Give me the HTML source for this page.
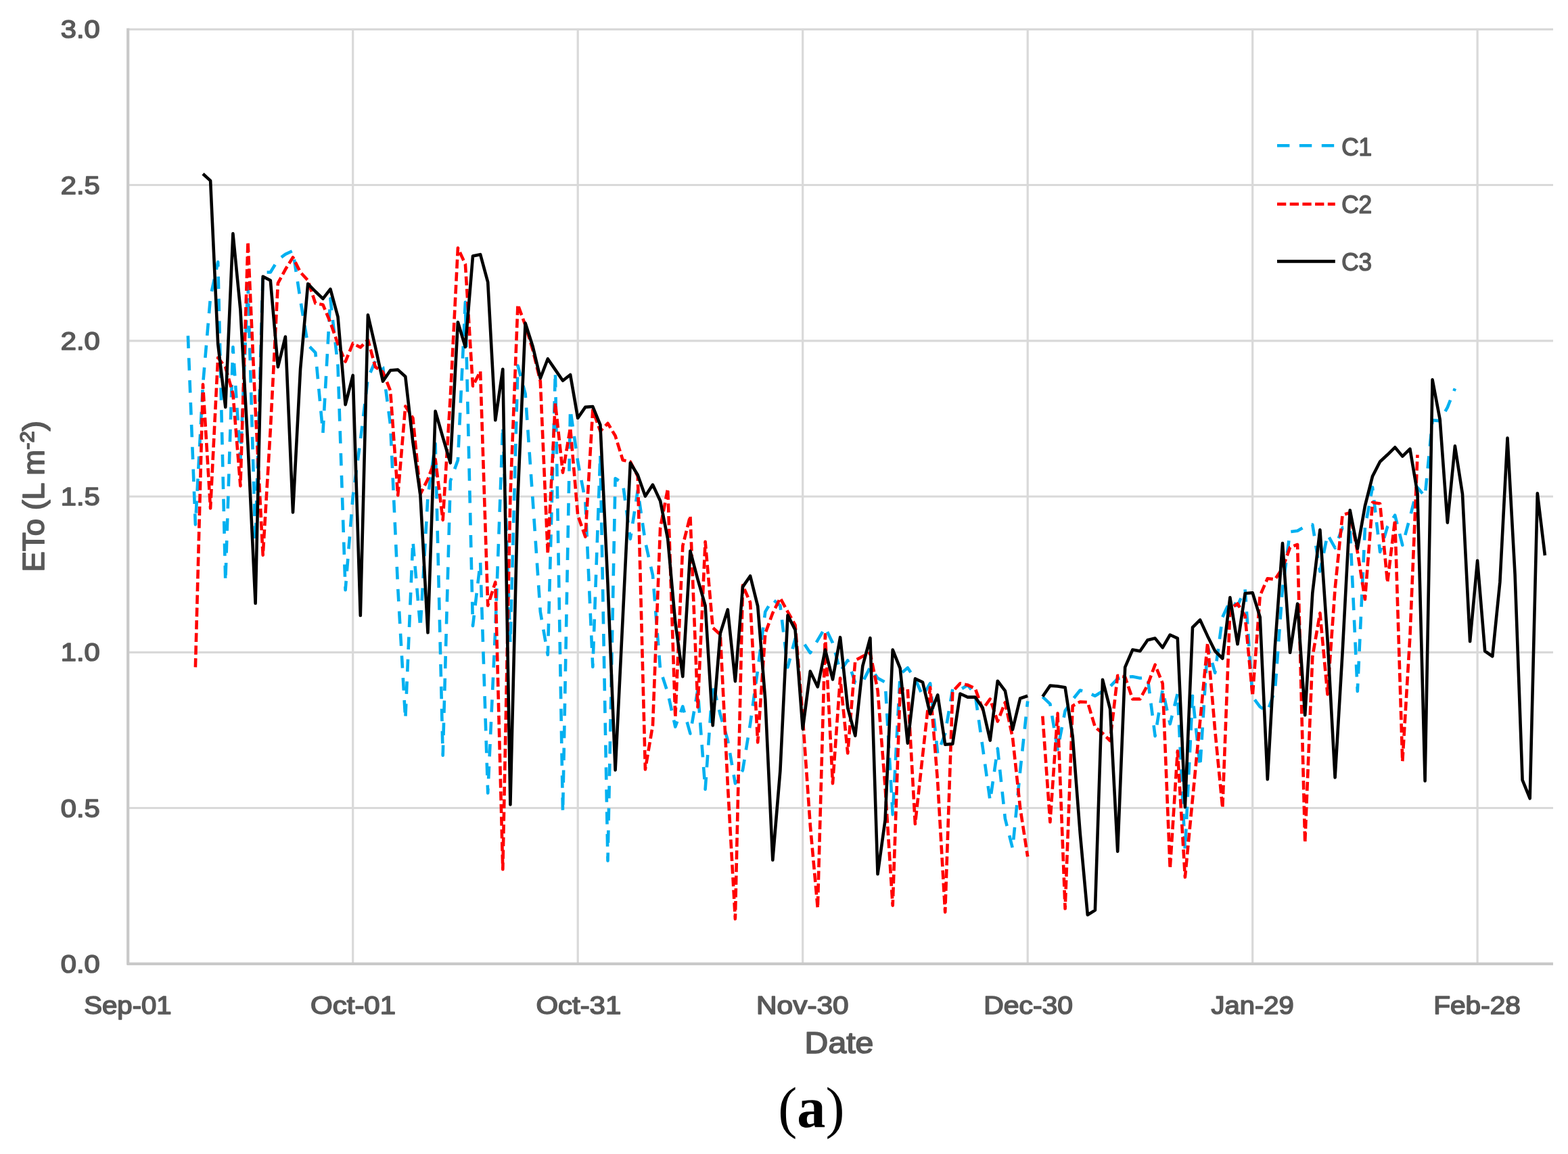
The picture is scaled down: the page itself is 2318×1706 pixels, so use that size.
<!DOCTYPE html>
<html lang="en"><head><meta charset="utf-8"><title>ETo chart (a)</title>
<style>html,body{margin:0;padding:0;background:#fff}body{width:2318px;height:1706px;overflow:hidden}svg{display:block;filter:blur(0.6px)}</style></head><body>
<svg xmlns="http://www.w3.org/2000/svg" width="2318" height="1706" viewBox="0 0 2318 1706">
<rect width="2318" height="1706" fill="#fff"/>
<g stroke="#d9d9d9" stroke-width="3.2" fill="none">
<line x1="189.2" y1="1194.5" x2="2296.0" y2="1194.5"/>
<line x1="189.2" y1="964.3" x2="2296.0" y2="964.3"/>
<line x1="189.2" y1="734.0" x2="2296.0" y2="734.0"/>
<line x1="189.2" y1="503.8" x2="2296.0" y2="503.8"/>
<line x1="189.2" y1="273.5" x2="2296.0" y2="273.5"/>
<line x1="189.2" y1="43.3" x2="2296.0" y2="43.3"/>
<line x1="521.7" y1="43.3" x2="521.7" y2="1424.8"/>
<line x1="854.2" y1="43.3" x2="854.2" y2="1424.8"/>
<line x1="1186.7" y1="43.3" x2="1186.7" y2="1424.8"/>
<line x1="1519.2" y1="43.3" x2="1519.2" y2="1424.8"/>
<line x1="1851.7" y1="43.3" x2="1851.7" y2="1424.8"/>
<line x1="2184.1" y1="43.3" x2="2184.1" y2="1424.8"/>
</g>
<g stroke="#c9c9c9" stroke-width="4.2" fill="none">
<line x1="189.2" y1="41.8" x2="189.2" y2="1426.3"/>
<line x1="187.7" y1="1424.8" x2="2296.0" y2="1424.8"/>
</g>
<g fill="none" stroke-linejoin="round" stroke-linecap="butt" stroke-width="4.6">
<path stroke="#00b0f0" stroke-dasharray="18.4 14.5" d="M277.9 496.4 L288.9 775.5 L300.0 568.3 L311.1 439.3 L322.2 387.3 L333.3 859.8 L344.4 513.0 L355.4 678.8 L366.5 420.9 L377.6 800.8 L388.7 402.5 L399.8 402.5 L410.9 384.1 L421.9 375.8 L433.0 370.7 L444.1 443.9 L455.2 509.8 L466.3 521.3 L477.4 640.1 L488.4 441.6 L499.5 540.6 L510.6 872.2 L521.7 734.0 L532.8 651.2 L543.9 559.1 L554.9 533.7 L566.0 542.9 L577.1 628.1 L588.2 869.0 L599.3 1063.3 L610.4 799.9 L621.4 927.9 L632.5 734.0 L643.6 655.8 L654.7 1116.7 L665.8 711.0 L676.9 680.2 L687.9 446.7 L699.0 925.2 L710.1 830.8 L721.2 1172.4 L732.3 930.2 L743.3 630.0 L754.4 950.5 L765.5 540.6 L776.6 582.1 L787.7 740.5 L798.8 904.4 L809.8 968.0 L820.9 549.9 L832.0 1201.0 L843.1 605.1 L854.2 682.5 L865.3 740.5 L876.3 985.9 L887.4 672.3 L898.5 1272.4 L909.6 707.3 L920.7 714.2 L931.8 796.7 L942.8 724.8 L953.9 800.8 L965.0 850.6 L976.1 990.1 L987.2 1024.2 L998.3 1074.4 L1009.3 1044.4 L1020.4 1084.5 L1031.5 1020.0 L1042.6 1166.9 L1053.7 1010.3 L1064.8 1056.4 L1075.8 1094.2 L1086.9 1158.2 L1098.0 1138.4 L1109.1 1070.2 L1120.2 990.1 L1131.3 904.4 L1142.3 886.0 L1153.4 895.2 L1164.5 986.4 L1175.6 944.0 L1186.7 948.6 L1197.8 965.2 L1208.8 946.3 L1219.9 927.5 L1231.0 950.5 L1242.1 992.4 L1253.2 976.3 L1264.3 1009.4 L1275.3 1008.5 L1286.4 986.4 L1297.5 1002.5 L1308.6 1008.5 L1319.7 1204.2 L1330.7 996.5 L1341.8 987.3 L1352.9 1003.4 L1364.0 1028.8 L1375.1 1010.3 L1386.2 1114.0 L1397.2 1084.5 L1408.3 1018.6 L1419.4 1019.6 L1430.5 1012.7 L1441.6 1026.5 L1452.7 1104.8 L1463.7 1184.0 L1474.8 1106.6 L1485.9 1210.2 L1497.0 1254.4 L1508.1 1140.2 L1519.2 1036.6 M1541.3 1030.2 L1552.4 1040.7 L1563.5 1108.0 L1574.6 1050.9 L1585.7 1034.3 L1596.7 1020.5 L1607.8 1023.7 L1618.9 1028.8 L1630.0 1021.9 L1641.1 1015.0 L1652.2 1003.4 L1663.2 1001.1 L1674.3 1000.2 L1685.4 1002.5 L1696.5 1001.1 L1707.6 1088.2 L1718.7 1019.6 L1729.7 1070.2 L1740.8 1025.1 L1751.9 1256.3 L1763.0 1028.8 L1774.1 1134.2 L1785.2 955.1 L1796.2 994.7 L1807.3 912.3 L1818.4 888.3 L1829.5 895.2 L1840.6 871.3 L1851.7 1030.2 L1862.7 1044.9 L1873.8 1051.8 L1884.9 1020.5 L1896.0 870.4 L1907.1 786.1 L1918.1 784.7 L1929.2 778.3 L1940.3 775.5 L1951.4 844.6 L1962.5 790.2 L1973.6 810.0 L1984.6 780.1 L1995.7 780.1 L2006.8 1021.9 L2017.9 780.1 L2029.0 720.2 L2040.1 816.0 L2051.1 778.7 L2062.2 761.7 L2073.3 805.9 L2084.4 764.9 L2095.5 720.7 L2106.6 734.0 L2117.6 621.2 L2128.7 622.1 L2139.8 602.3 L2150.9 574.3"/>
<path stroke="#ff0000" stroke-dasharray="13.3 5.4" d="M288.9 986.4 L300.0 568.3 L311.1 751.5 L322.2 528.7 L333.3 542.9 L344.4 582.1 L355.4 718.4 L366.5 357.4 L377.6 605.1 L388.7 820.6 L399.8 635.0 L410.9 418.6 L421.9 398.3 L433.0 380.4 L444.1 402.5 L455.2 414.5 L466.3 448.5 L477.4 450.4 L488.4 476.6 L499.5 508.4 L510.6 534.7 L521.7 507.5 L532.8 513.5 L543.9 502.4 L554.9 542.5 L566.0 549.9 L577.1 577.5 L588.2 732.2 L599.3 600.5 L610.4 618.0 L621.4 730.4 L632.5 708.3 L643.6 678.8 L654.7 768.6 L665.8 586.7 L676.9 366.6 L687.9 390.5 L699.0 570.6 L710.1 548.9 L721.2 895.2 L732.3 860.7 L743.3 1285.3 L754.4 734.0 L765.5 450.4 L776.6 480.8 L787.7 517.6 L798.8 563.7 L809.8 818.8 L820.9 595.9 L832.0 698.6 L843.1 632.3 L854.2 761.7 L865.3 793.5 L876.3 606.0 L887.4 637.3 L898.5 625.8 L909.6 644.3 L920.7 680.2 L931.8 682.5 L942.8 704.1 L953.9 1137.4 L965.0 1072.1 L976.1 780.1 L987.2 722.5 L998.3 1060.5 L1009.3 806.8 L1020.4 762.6 L1031.5 1045.3 L1042.6 800.8 L1053.7 927.9 L1064.8 938.1 L1075.8 1160.0 L1086.9 1358.5 L1098.0 865.3 L1109.1 890.6 L1120.2 1097.4 L1131.3 936.2 L1142.3 906.3 L1153.4 884.2 L1164.5 904.4 L1175.6 924.2 L1186.7 1061.0 L1197.8 1220.3 L1208.8 1342.4 L1219.9 938.1 L1231.0 1158.2 L1242.1 1002.5 L1253.2 1113.5 L1264.3 976.3 L1275.3 970.3 L1286.4 965.2 L1297.5 1020.5 L1308.6 1164.2 L1319.7 1338.7 L1330.7 1018.6 L1341.8 1018.6 L1352.9 1218.0 L1364.0 1116.7 L1375.1 1016.3 L1386.2 1156.3 L1397.2 1348.4 L1408.3 1022.3 L1419.4 1010.3 L1430.5 1012.7 L1441.6 1017.7 L1452.7 1048.6 L1463.7 1033.4 L1474.8 1066.5 L1485.9 1038.4 L1497.0 1090.5 L1508.1 1194.1 L1519.2 1266.4 M1541.3 1058.7 L1552.4 1215.3 L1563.5 1054.6 L1574.6 1343.3 L1585.7 1043.5 L1596.7 1037.5 L1607.8 1038.0 L1618.9 1074.8 L1630.0 1084.0 L1641.1 1095.1 L1652.2 998.8 L1663.2 1000.7 L1674.3 1033.4 L1685.4 1033.4 L1696.5 1012.7 L1707.6 982.7 L1718.7 1010.3 L1729.7 1284.3 L1740.8 1110.3 L1751.9 1296.8 L1763.0 1181.2 L1774.1 1066.1 L1785.2 950.5 L1796.2 1079.9 L1807.3 1194.5 L1818.4 900.3 L1829.5 892.5 L1840.6 910.4 L1851.7 1028.8 L1862.7 880.5 L1873.8 855.2 L1884.9 856.5 L1896.0 840.0 L1907.1 809.1 L1918.1 805.0 L1929.2 1245.7 L1940.3 970.7 L1951.4 906.3 L1962.5 1026.5 L1973.6 870.4 L1984.6 761.2 L1995.7 758.0 L2006.8 816.0 L2017.9 886.0 L2029.0 742.8 L2040.1 744.6 L2051.1 861.1 L2062.2 768.6 L2073.3 1125.5 L2084.4 941.3 L2095.5 672.3"/>
<path stroke="#000" d="M300.0 257.0 L311.1 267.1 L322.2 508.4 L333.3 601.9 L344.4 345.4 L355.4 457.7 L366.5 658.1 L377.6 892.0 L388.7 408.9 L399.8 414.5 L410.9 542.5 L421.9 497.8 L433.0 757.5 L444.1 545.2 L455.2 419.5 L466.3 431.0 L477.4 441.6 L488.4 427.4 L499.5 468.3 L510.6 598.2 L521.7 554.9 L532.8 910.0 L543.9 465.6 L554.9 513.0 L566.0 563.7 L577.1 547.5 L588.2 546.6 L599.3 556.8 L610.4 653.9 L621.4 732.2 L632.5 935.3 L643.6 607.9 L654.7 646.6 L665.8 684.3 L676.9 476.2 L687.9 513.0 L699.0 378.5 L710.1 376.2 L721.2 417.2 L732.3 621.2 L743.3 545.7 L754.4 1189.5 L765.5 734.0 L776.6 477.6 L787.7 512.5 L798.8 559.1 L809.8 530.5 L820.9 546.6 L832.0 562.7 L843.1 554.0 L854.2 618.0 L865.3 601.9 L876.3 601.0 L887.4 628.1 L898.5 863.0 L909.6 1138.4 L920.7 913.2 L931.8 684.3 L942.8 702.3 L953.9 733.6 L965.0 716.6 L976.1 740.5 L987.2 796.7 L998.3 920.1 L1009.3 1000.2 L1020.4 814.6 L1031.5 856.5 L1042.6 895.2 L1053.7 1072.5 L1064.8 936.2 L1075.8 901.2 L1086.9 1007.1 L1098.0 867.6 L1109.1 851.5 L1120.2 896.1 L1131.3 1034.3 L1142.3 1271.5 L1153.4 1139.3 L1164.5 909.5 L1175.6 931.1 L1186.7 1077.6 L1197.8 992.4 L1208.8 1015.4 L1219.9 960.6 L1231.0 1004.4 L1242.1 942.2 L1253.2 1046.3 L1264.3 1087.7 L1275.3 984.6 L1286.4 943.1 L1297.5 1292.2 L1308.6 1212.0 L1319.7 960.6 L1330.7 988.2 L1341.8 1098.8 L1352.9 1003.4 L1364.0 1008.5 L1375.1 1055.5 L1386.2 1027.4 L1397.2 1100.6 L1408.3 1099.7 L1419.4 1025.5 L1430.5 1030.6 L1441.6 1030.6 L1452.7 1046.3 L1463.7 1094.6 L1474.8 1006.7 L1485.9 1021.4 L1497.0 1078.5 L1508.1 1032.5 L1519.2 1028.8 M1541.3 1029.7 L1552.4 1013.6 L1563.5 1014.5 L1574.6 1016.3 L1585.7 1088.6 L1596.7 1231.4 L1607.8 1352.5 L1618.9 1345.6 L1630.0 1004.8 L1641.1 1048.1 L1652.2 1258.6 L1663.2 986.4 L1674.3 960.6 L1685.4 962.5 L1696.5 946.3 L1707.6 943.6 L1718.7 957.4 L1729.7 938.5 L1740.8 943.6 L1751.9 1193.2 L1763.0 927.5 L1774.1 916.4 L1785.2 940.4 L1796.2 962.5 L1807.3 973.5 L1818.4 883.3 L1829.5 952.3 L1840.6 877.3 L1851.7 876.3 L1862.7 912.3 L1873.8 1152.2 L1884.9 955.1 L1896.0 803.1 L1907.1 964.8 L1918.1 892.5 L1929.2 1057.3 L1940.3 876.8 L1951.4 783.3 L1962.5 945.9 L1973.6 1149.4 L1984.6 964.3 L1995.7 754.3 L2006.8 811.0 L2017.9 747.9 L2029.0 704.1 L2040.1 682.5 L2051.1 672.3 L2062.2 661.3 L2073.3 674.6 L2084.4 663.6 L2095.5 729.4 L2106.6 1154.5 L2117.6 561.4 L2128.7 620.3 L2139.8 772.7 L2150.9 659.4 L2162.0 730.4 L2173.1 948.2 L2184.1 828.9 L2195.2 962.5 L2206.3 970.3 L2217.4 860.2 L2228.5 647.5 L2239.6 849.2 L2250.6 1153.1 L2261.7 1180.3 L2272.8 729.4 L2283.9 821.1"/>
<line stroke="#00b0f0" stroke-dasharray="18.4 14.5" x1="1888" y1="215.2" x2="1973.8" y2="215.2"/>
<line stroke="#ff0000" stroke-dasharray="13.3 5.4" x1="1888" y1="301.7" x2="1973.8" y2="301.7"/>
<line stroke="#000" x1="1888" y1="386.4" x2="1973.8" y2="386.4"/>
</g>
<text transform="translate(124.19,1498.60) scale(1.0745,1)" style="font-family:Liberation Sans;font-weight:normal;font-size:37.4px;fill:#595959;stroke:#595959;stroke-width:1.6px;stroke-linejoin:round">Sep-01</text>
<text transform="translate(459.08,1498.60) scale(1.1229,1)" style="font-family:Liberation Sans;font-weight:normal;font-size:37.4px;fill:#595959;stroke:#595959;stroke-width:1.6px;stroke-linejoin:round">Oct-01</text>
<text transform="translate(792.38,1498.60) scale(1.1220,1)" style="font-family:Liberation Sans;font-weight:normal;font-size:37.4px;fill:#595959;stroke:#595959;stroke-width:1.6px;stroke-linejoin:round">Oct-31</text>
<text transform="translate(1117.95,1498.60) scale(1.1346,1)" style="font-family:Liberation Sans;font-weight:normal;font-size:37.4px;fill:#595959;stroke:#595959;stroke-width:1.6px;stroke-linejoin:round">Nov-30</text>
<text transform="translate(1454.14,1498.60) scale(1.0938,1)" style="font-family:Liberation Sans;font-weight:normal;font-size:37.4px;fill:#595959;stroke:#595959;stroke-width:1.6px;stroke-linejoin:round">Dec-30</text>
<text transform="translate(1790.47,1498.60) scale(1.0690,1)" style="font-family:Liberation Sans;font-weight:normal;font-size:37.4px;fill:#595959;stroke:#595959;stroke-width:1.6px;stroke-linejoin:round">Jan-29</text>
<text transform="translate(2119.15,1498.60) scale(1.0874,1)" style="font-family:Liberation Sans;font-weight:normal;font-size:37.4px;fill:#595959;stroke:#595959;stroke-width:1.6px;stroke-linejoin:round">Feb-28</text>
<text transform="translate(89.84,1437.90) scale(1.1153,1)" style="font-family:Liberation Sans;font-weight:normal;font-size:37.4px;fill:#595959;stroke:#595959;stroke-width:1.6px;stroke-linejoin:round">0.0</text>
<text transform="translate(89.84,1207.65) scale(1.1153,1)" style="font-family:Liberation Sans;font-weight:normal;font-size:37.4px;fill:#595959;stroke:#595959;stroke-width:1.6px;stroke-linejoin:round">0.5</text>
<text transform="translate(89.84,977.40) scale(1.1153,1)" style="font-family:Liberation Sans;font-weight:normal;font-size:37.4px;fill:#595959;stroke:#595959;stroke-width:1.6px;stroke-linejoin:round">1.0</text>
<text transform="translate(89.84,747.15) scale(1.1153,1)" style="font-family:Liberation Sans;font-weight:normal;font-size:37.4px;fill:#595959;stroke:#595959;stroke-width:1.6px;stroke-linejoin:round">1.5</text>
<text transform="translate(89.84,516.90) scale(1.1153,1)" style="font-family:Liberation Sans;font-weight:normal;font-size:37.4px;fill:#595959;stroke:#595959;stroke-width:1.6px;stroke-linejoin:round">2.0</text>
<text transform="translate(89.84,286.65) scale(1.1153,1)" style="font-family:Liberation Sans;font-weight:normal;font-size:37.4px;fill:#595959;stroke:#595959;stroke-width:1.6px;stroke-linejoin:round">2.5</text>
<text transform="translate(89.84,56.40) scale(1.1153,1)" style="font-family:Liberation Sans;font-weight:normal;font-size:37.4px;fill:#595959;stroke:#595959;stroke-width:1.6px;stroke-linejoin:round">3.0</text>
<text transform="translate(1983.16,230.30) scale(0.9421,1)" style="font-family:Liberation Sans;font-weight:normal;font-size:37.4px;fill:#595959;stroke:#595959;stroke-width:1.6px;stroke-linejoin:round">C1</text>
<text transform="translate(1983.16,314.80) scale(0.9421,1)" style="font-family:Liberation Sans;font-weight:normal;font-size:37.4px;fill:#595959;stroke:#595959;stroke-width:1.6px;stroke-linejoin:round">C2</text>
<text transform="translate(1983.16,399.80) scale(0.9370,1)" style="font-family:Liberation Sans;font-weight:normal;font-size:37.4px;fill:#595959;stroke:#595959;stroke-width:1.6px;stroke-linejoin:round">C3</text>
<text transform="translate(1189.60,1557.40) scale(1.0905,1)" style="font-family:Liberation Sans;font-weight:normal;font-size:44.2px;fill:#595959;stroke:#595959;stroke-width:1.7px;stroke-linejoin:round">Date</text>
<text transform="translate(64.60,845.54) rotate(-90) scale(1.0321,1)" style="font-family:Liberation Sans;font-weight:normal;font-size:44.2px;fill:#595959;stroke:#595959;stroke-width:1.7px;stroke-linejoin:round">ETo (L m<tspan dy="-15" style="font-size:30px">-2</tspan><tspan dy="15">)</tspan></text>
<text transform="translate(1150.22,1666.37) scale(0.9801,0.9936)" style="font-family:Liberation Serif;font-weight:normal;font-size:86px;fill:#000">(<tspan style="font-weight:bold">a</tspan>)</text>
</svg></body></html>
